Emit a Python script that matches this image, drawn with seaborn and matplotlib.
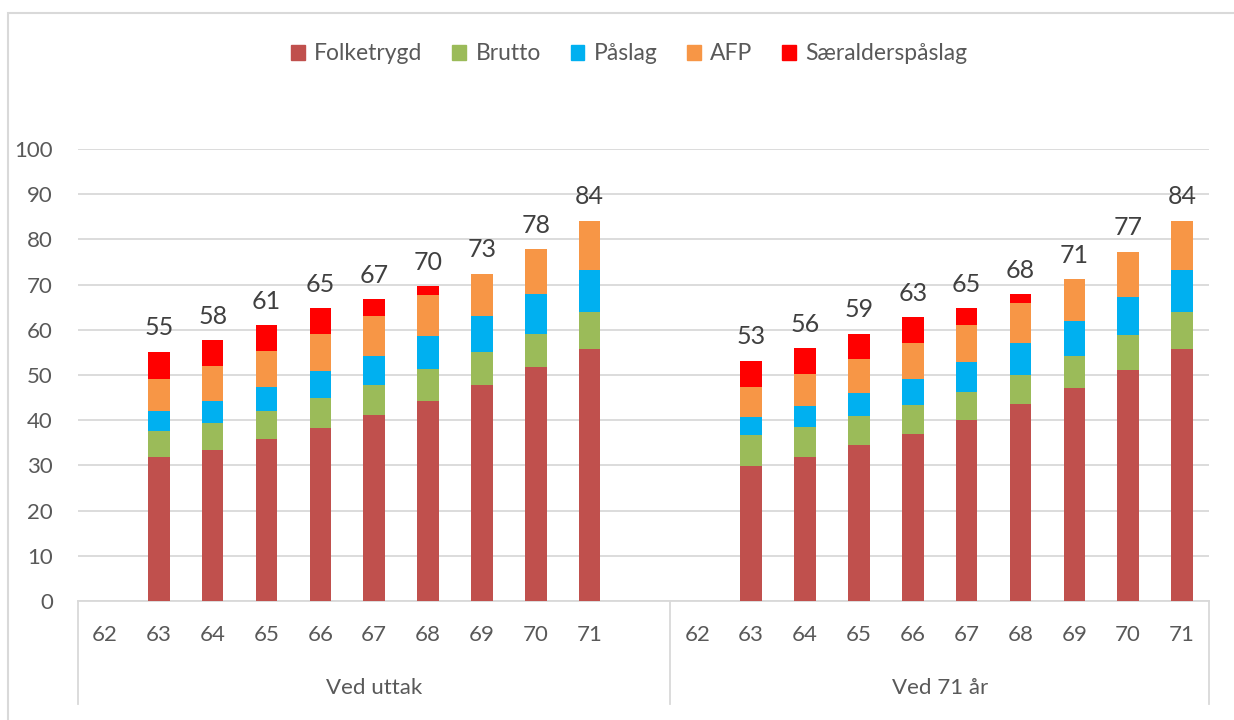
import matplotlib.pyplot as plt
import matplotlib.patches as mpatches
import numpy as np
import pandas as pd
import seaborn as sns

ages = [62, 63, 64, 65, 66, 67, 68, 69, 70, 71]
groups = ['Ved uttak', 'Ved 71 år']
series = ['Folketrygd', 'Brutto', 'Påslag', 'AFP', 'Særalderspåslag']
colors = ['#C0504D', '#9BBB59', '#00B0F0', '#F79646', '#FF0000']

# Ved uttak
folketrygd_uttak = [0, 31.9, 33.5, 35.8, 38.3, 41.2, 44.3, 47.7, 51.7, 55.7]
brutto_uttak = [0, 5.6, 5.9, 6.2, 6.5, 6.5, 7.1, 7.4, 7.4, 8.2]
paslag_uttak = [0, 4.5, 4.9, 5.4, 6.0, 6.6, 7.2, 8.0, 8.8, 9.4]
afp_uttak = [0, 7.1, 7.6, 8.0, 8.3, 8.8, 9.0, 9.3, 9.9, 10.8]
saeralder_uttak = [0, 6.0, 5.8, 5.6, 5.7, 3.7, 2.0, 0, 0, 0]
labels_uttak = ['', '55', '58', '61', '65', '67', '70', '73', '78', '84']

# Ved 71 år
folketrygd_71 = [0, 29.9, 31.9, 34.4, 36.9, 40.1, 43.5, 47.2, 51.2, 55.7]
brutto_71 = [0, 6.8, 6.7, 6.5, 6.5, 6.2, 6.5, 7.1, 7.6, 8.2]
paslag_71 = [0, 3.9, 4.6, 5.1, 5.7, 6.6, 7.1, 7.6, 8.5, 9.4]
afp_71 = [0, 6.8, 7.1, 7.6, 7.9, 8.1, 8.8, 9.3, 10.0, 10.8]
saeralder_71 = [0, 5.7, 5.6, 5.5, 5.8, 3.8, 2.0, 0, 0, 0]
labels_71 = ['', '53', '56', '59', '63', '65', '68', '71', '77', '84']

rows = []
for grp, vals in [(groups[0], [folketrygd_uttak, brutto_uttak, paslag_uttak, afp_uttak, saeralder_uttak]),
                  (groups[1], [folketrygd_71, brutto_71, paslag_71, afp_71, saeralder_71])]:
    for i, age in enumerate(ages):
        row = {'kat': f'{grp}|{age}', 'gruppe': grp, 'alder': age}
        for s, v in zip(series, vals):
            row[s] = v[i]
        rows.append(row)
df = pd.DataFrame(rows)

# cumulative sums so the stacks can be drawn back to front
cum = df[series].cumsum(axis=1)
df_cum = pd.concat([df[['kat']], cum], axis=1)

order = [f'{groups[0]}|{a}' for a in ages] + ['gap'] + [f'{groups[1]}|{a}' for a in ages]

plt.rcParams['font.family'] = ['Lato', 'DejaVu Sans']
text_col = '#595959'

fig = plt.figure(figsize=(12.34, 7.2), dpi=100)
ax = fig.add_axes([0.0632, 0.1653, 0.9797 - 0.0632, 0.7931 - 0.1653])

for s, c in reversed(list(zip(series, colors))):
    sns.barplot(data=df_cum, x='kat', y=s, order=order, color=c, width=0.4,
                saturation=1, linewidth=0, ax=ax, zorder=3)

# total labels on the outermost (first drawn) container
ax.bar_label(ax.containers[0], labels=labels_uttak + labels_71, padding=9,
             fontsize=18, color='#404040')

ax.set_ylim(0, 100)
ax.set_xlim(-0.5, len(order) - 0.5)
ax.set_yticks(range(0, 101, 10))
ax.yaxis.grid(True, color='#D9D9D9', linewidth=1.3, zorder=0)
ax.set_axisbelow(True)
ax.tick_params(axis='y', length=0, pad=18, labelsize=16, labelcolor=text_col)
ax.tick_params(axis='x', length=0, pad=17, labelsize=16, labelcolor=text_col)
ax.set_xticks(range(len(order)))
ax.set_xticklabels([str(a) for a in ages] + [''] + [str(a) for a in ages])
ax.set_xlabel('')
ax.set_ylabel('')
for sp in ['top', 'right', 'left']:
    ax.spines[sp].set_visible(False)
ax.spines['bottom'].set_color('#D9D9D9')
ax.spines['bottom'].set_linewidth(1.3)

# group separators and labels under the axis
trans = ax.get_xaxis_transform()
for xs in [-0.5, 10.5, len(order) - 0.5]:
    ax.plot([xs, xs], [0, -0.228], color='#D9D9D9', lw=1.3, transform=trans, clip_on=False)
ax.text(5, -0.192, groups[0], transform=trans, ha='center', va='center', fontsize=16, color=text_col)
ax.text(15.5, -0.192, groups[1], transform=trans, ha='center', va='center', fontsize=16, color=text_col)

handles = [mpatches.Patch(color=c, label=s) for s, c in zip(series, colors)]
leg = fig.legend(handles=handles, loc='center', bbox_to_anchor=(0.51, 0.925), ncol=5,
                 frameon=False, fontsize=16.5, handlelength=0.6, handleheight=0.6,
                 handletextpad=0.4, columnspacing=1.3)
for t in leg.get_texts():
    t.set_color(text_col)

# chart border
fig.patches.append(mpatches.Rectangle((8 / 1234, -0.1), 1.2, 1 - 13 / 720 + 0.1,
                                      transform=fig.transFigure, fill=False,
                                      edgecolor='#D9D9D9', linewidth=1.5))

fig.savefig('out.png', dpi=100)
